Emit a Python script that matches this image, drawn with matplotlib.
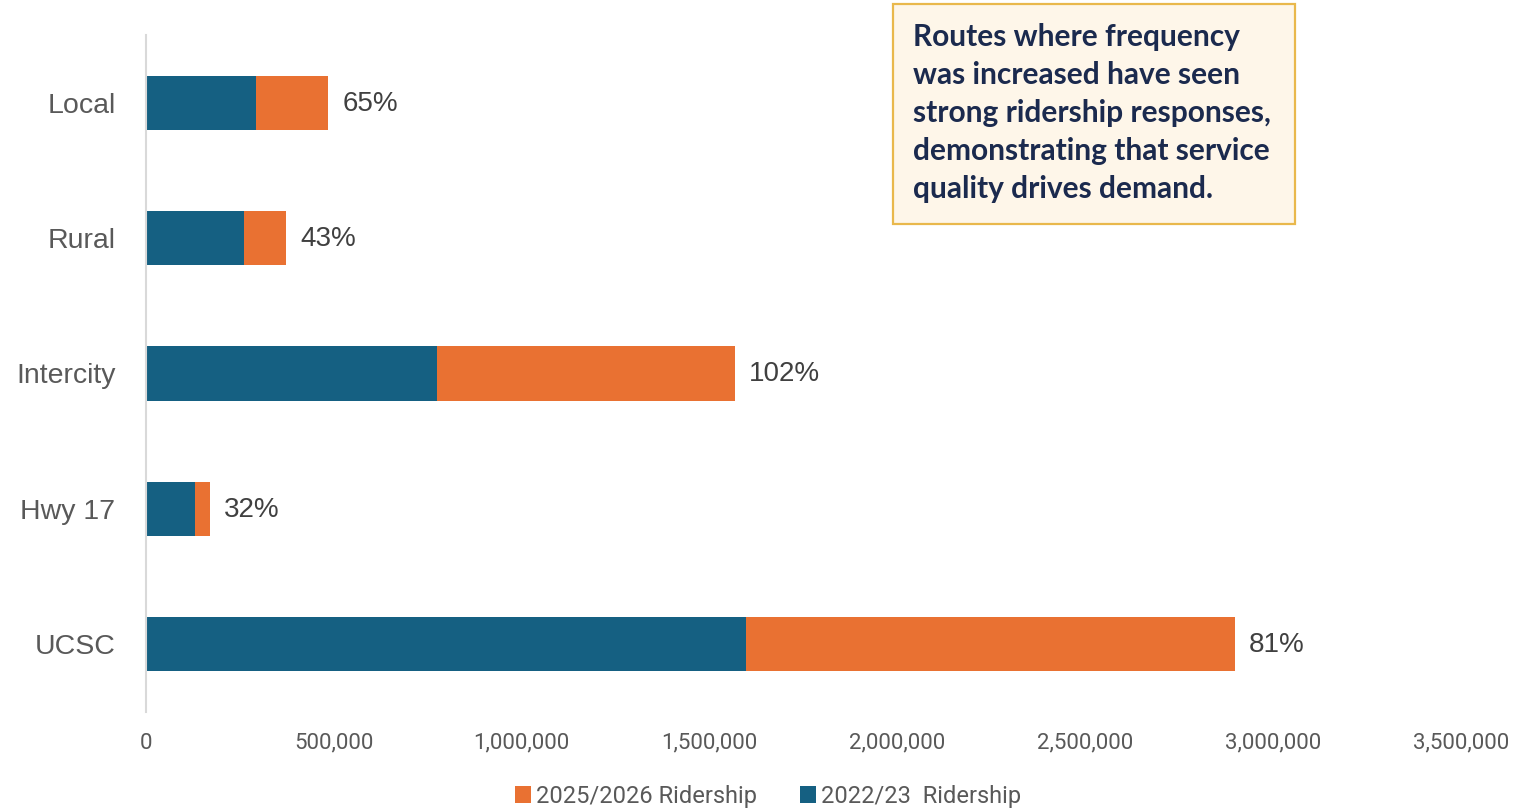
import matplotlib.pyplot as plt
from matplotlib.patches import Rectangle
from matplotlib.ticker import FuncFormatter

# data
routes = ["Local", "Rural", "Intercity", "Hwy 17", "UCSC"]
ridership_2223 = [293000, 261000, 774000, 130000, 1596000]
ridership_increase = [192000, 112000, 793000, 40000, 1302000]
pct_labels = ["65%", "43%", "102%", "32%", "81%"]
xticks = [0, 500000, 1000000, 1500000, 2000000, 2500000, 3000000, 3500000]

blue = "#156082"
orange = "#E97132"
narrow = ["Roboto", "DejaVu Sans"]
regular = ["Liberation Sans", "DejaVu Sans"]

fig = plt.figure(figsize=(15.13, 8.1), dpi=100)
ax = fig.add_axes([146/1513, 1-712/810, (1461-146)/1513, (712-35)/810])

y = list(range(len(routes)))
b1 = ax.barh(y, ridership_2223, height=0.4, color=blue, label="2022/23  Ridership")
b2 = ax.barh(y, ridership_increase, left=ridership_2223, height=0.4, color=orange,
             label="2025/2026 Ridership")

for i in y:
    total = ridership_2223[i] + ridership_increase[i]
    ax.annotate(pct_labels[i], (total, i), xytext=(14, -1), textcoords="offset pixels",
                va="center", ha="left", fontsize=20, color="#404040", family=regular)

ax.set_ylim(len(routes) - 0.5, -0.5)
ax.set_xlim(0, 3500000)
ax.set_yticks(y)
ax.set_yticklabels(routes, fontsize=20.5, color="#595959", family=regular)
ax.set_xticks(xticks)
ax.xaxis.set_major_formatter(FuncFormatter(lambda v, p: "{:,.0f}".format(v)))
for lab in ax.get_xticklabels():
    lab.set_family(narrow)
    lab.set_fontsize(16)
    lab.set_color("#595959")
ax.tick_params(axis="y", length=0, pad=22)
ax.tick_params(axis="x", length=0, pad=15)
for s in ["top", "right", "bottom"]:
    ax.spines[s].set_visible(False)
ax.spines["left"].set_color("#D9D9D9")
ax.spines["left"].set_linewidth(1.5)

handles = [b2, b1]
fig.legend(handles, [h.get_label() for h in handles], loc="center",
           bbox_to_anchor=(768/1513, 1-796/810), ncol=2, frameon=False,
           prop={"family": narrow, "size": 17}, labelcolor="#595959",
           handlelength=0.7, handleheight=0.7, handletextpad=0.2, columnspacing=1.8)

# callout box
fig.patches.append(Rectangle((893/1513, 1-224/810), (1295-893)/1513, (224-4)/810,
                             transform=fig.transFigure, facecolor="#FEF6E9",
                             edgecolor="#E9B84C", linewidth=1.6, zorder=5))
fig.text(913/1513, 1-113/810,
         "Routes where frequency\nwas increased have seen\nstrong ridership responses,\n"
         "demonstrating that service\nquality drives demand.",
         ha="left", va="center", fontsize=21.5, fontweight="bold", family=["Lato", "DejaVu Sans"],
         color="#1B2A4E", linespacing=1.44, zorder=6)

fig.savefig("out.png", dpi=100)
